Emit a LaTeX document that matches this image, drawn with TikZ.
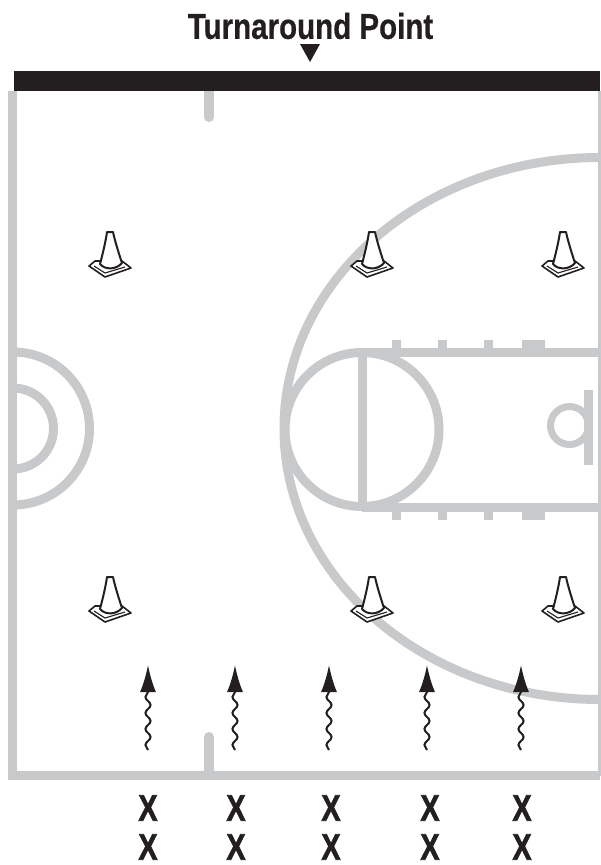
\documentclass[tikz,border=0pt]{standalone}
\usepackage{fontspec}
\usetikzlibrary{arrows.meta,decorations.pathmorphing}
\newfontfamily\courtfont[FakeStretch=0.82,FakeBold=0.6]{Liberation Sans Bold}
\newfontfamily\markfont[FakeStretch=0.78,FakeBold=1.6]{Liberation Sans Bold}
\definecolor{courtgray}{HTML}{C8C9CB}
\definecolor{inkblack}{HTML}{231F20}
\tikzset{
  cone/.pic={
    \draw[ink, line width=1.6pt, fill=white, line join=round]
      (-21,13) -- (-15,8) -- (12,8) -- (21,15) -- (-5,24) -- cycle;
    \draw[ink, line width=1.1pt] (-16,13) -- (-5,20) -- (15,14);
    \draw[ink, line width=2pt, fill=white, line join=round]
      (-10,11) .. controls (-6,-4) and (-4,-14) .. (-3,-21)
      -- (3,-21) .. controls (5,-12) and (8,-2) .. (12,10)
      .. controls (6,17) and (-5,17) .. (-10,11) -- cycle;
  }
}
\begin{document}
\begin{tikzpicture}[
  x=1pt, y=-1pt,
  line/.style={draw=courtgray, line width=9pt},
  ink/.style={draw=inkblack},
  wiggle/.style={-{Latex[length=27pt,width=16pt]}, inkblack, line width=2pt,
                 decorate, decoration={snake, amplitude=2.6pt,
                 segment length=16pt, post=lineto, post length=27pt}},
  xmark/.style={inkblack, inner sep=0pt, font=\markfont\fontsize{37}{37}\selectfont},
  title/.style={inkblack, inner sep=0pt, font=\courtfont\fontsize{36}{36}\selectfont}
]
  \useasboundingbox (0,0) rectangle (600,865);

  % Three point line
  \draw[line] (600,157.5) arc[start angle=-90, end angle=-270, x radius=316, y radius=271];
  % Key
  \draw[line] (600,352.5) -- (362,352.5);
  \draw[line] (600,507) -- (362,507);
  \draw[line] (362.5,352) -- (362.5,507);
  \draw[line] (362,429.5) circle[radius=77];
  \foreach \x/\w in {396/9, 442/9, 488/9, 533/23} {
    \fill[courtgray] (\x-\w/2,340) rectangle (\x+\w/2,352);
    \fill[courtgray] (\x-\w/2,507) rectangle (\x+\w/2,520);
  }
  % Basket
  \draw[line, line width=7pt] (569.5,425.5) circle[radius=19];
  \draw[line] (588.5,390) -- (588.5,465);

  % Other basket
  \draw[line] (13,352) arc[start angle=-90, end angle=90, radius=76.5];
  \draw[line] (13,388) arc[start angle=-90, end angle=90, radius=40.5];

  % Boundary
  \draw[line, line join=miter] (12.5,91) -- (12.5,775.5) -- (600,775.5);
  \draw[line] (602,91) -- (602,775.5);
  \draw[line, line width=10pt, line cap=round] (209,91) -- (209,117);
  \draw[line, line width=10pt, line cap=round] (209,775) -- (209,737);
  \fill[inkblack] (14,71) rectangle (600,91);

  % Turnaround label
  \node[title] (turn) at (310.5,26) {Turnaround Point};
  \fill[inkblack] (300,44) -- (320,44) -- (310,62) -- cycle;

  % Cones
  \foreach \x in {110, 372, 563} {
    \pic at (\x,253) {cone};
    \pic at (\x,598) {cone};
  }

  % Players
  \foreach \i/\x/\w in {1/148/148, 2/236/235, 3/331/329, 4/430/427, 5/522/521} {
    \node[xmark] (a\i) at (\x,808) {X};
    \node[xmark] (b\i) at (\x,847) {X};
    \coordinate (s\i) at (\w,750);
    \coordinate (e\i) at (\w,665);
    \draw[wiggle] (s\i) -- (e\i);
  }
\end{tikzpicture}
\end{document}
